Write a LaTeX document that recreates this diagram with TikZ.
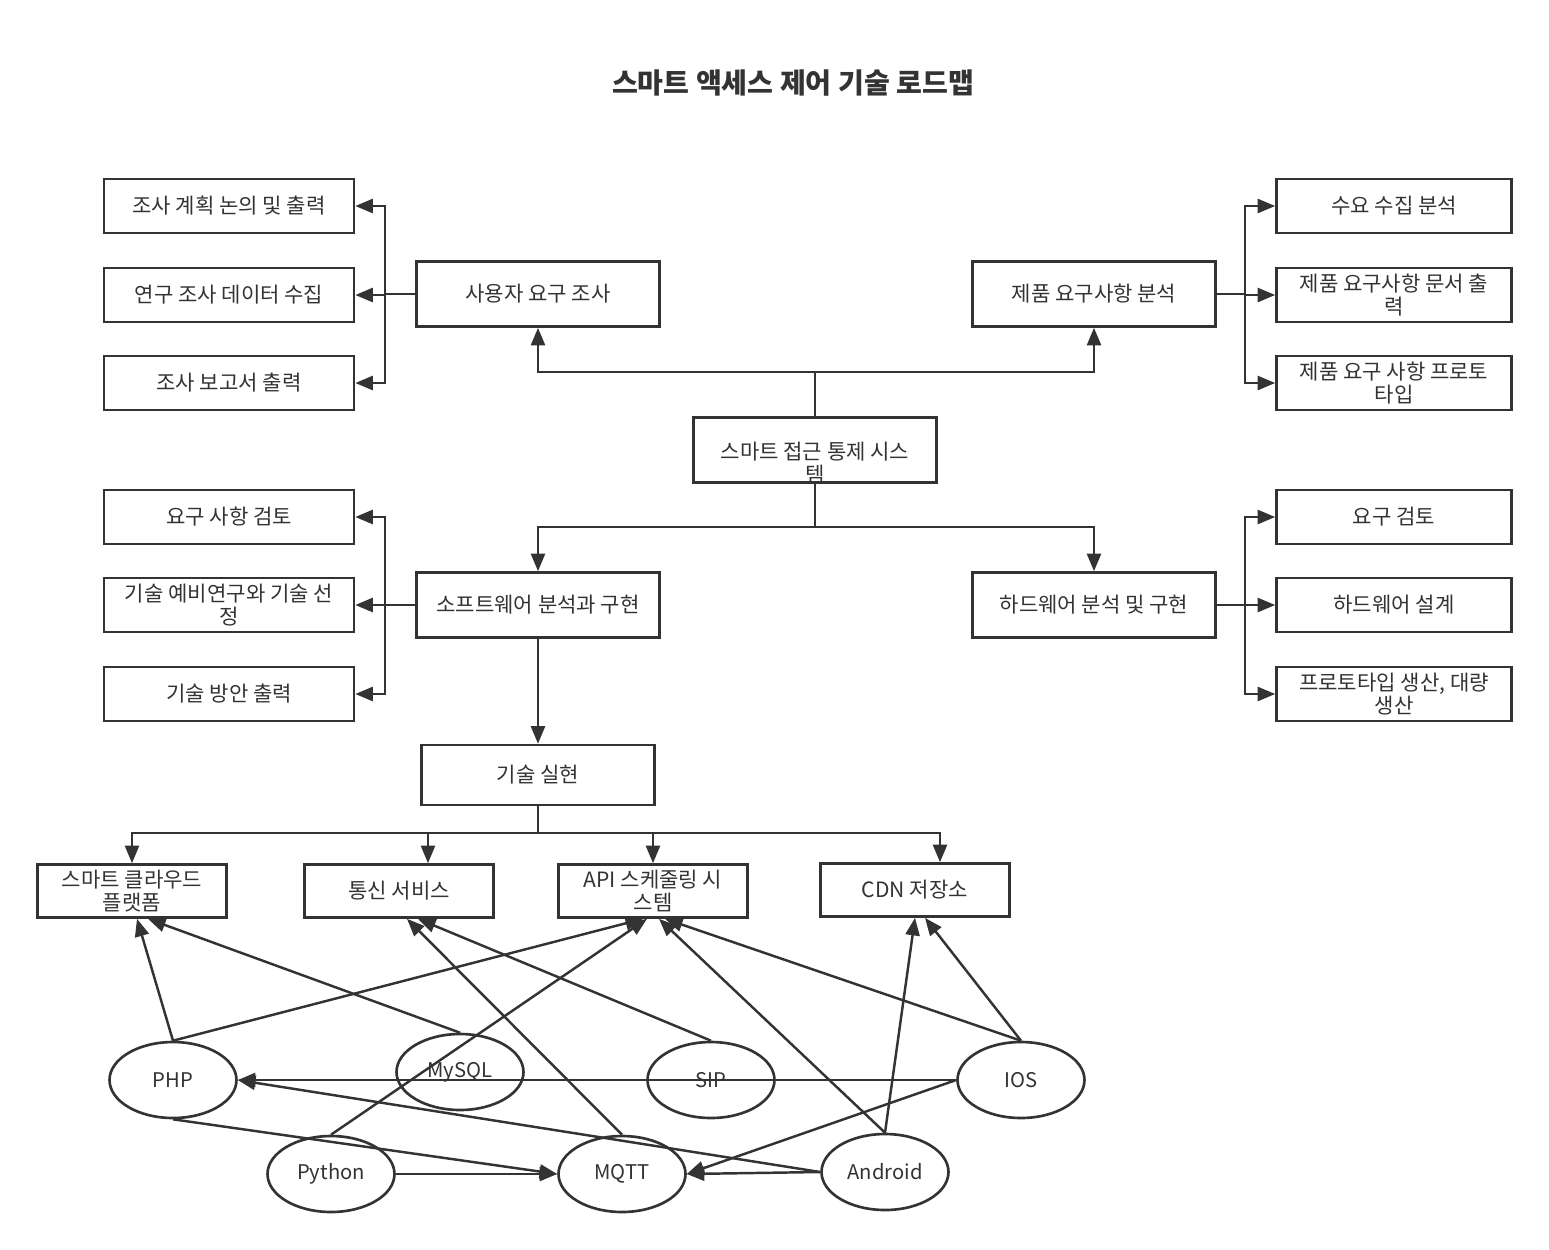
\documentclass[tikz,border=0pt]{standalone}
\usepackage{fontspec}
\setmainfont{Noto Sans CJK KR}
\usetikzlibrary{arrows.meta,shapes.geometric,calc}
\definecolor{linec}{HTML}{333333}
\tikzset{
  box/.style={draw=linec, line width=1.5pt, fill=white, text=linec, align=center,
    inner sep=0pt, font=\fontsize{12pt}{13.4pt}\selectfont},
  leaf/.style={box, minimum width=5cm, minimum height=1.08cm},
  rleaf/.style={box, minimum width=4.7cm, minimum height=1.08cm},
  mid/.style={box, minimum width=4.86cm, minimum height=1.3cm},
  tech/.style={box, minimum width=3.78cm, minimum height=1.06cm},
  oval/.style={ellipse, draw=linec, line width=1.5pt, text=linec, inner sep=0pt,
    minimum width=2.54cm, minimum height=1.52cm, font=\fontsize{11.5pt}{13.4pt}\selectfont},
  conn/.style={draw=linec, line width=1.4pt},
  arr/.style={conn, -{Triangle[length=10pt,width=8pt]}}
}
\begin{document}
\begin{tikzpicture}[x=0.02cm, y=-0.02cm]
  \useasboundingbox (0,0) rectangle (1549,1249);

  % Title
  \node[text=linec, font=\fontsize{16pt}{19pt}\selectfont\bfseries] (title) at (793,83) {스마트 액세스 제어 기술 로드맵};

  % Center system
  \node[mid] (sys) at (815,450) {};
  \node[text=linec, align=center, font=\fontsize{12pt}{13.4pt}\selectfont] (systxt) at (815,463) {스마트 접근 통제 시스\\템};

  % Upper branches
  \node[mid] (user) at (538,294) {사용자 요구 조사};
  \node[mid] (prod) at (1094,294) {제품 요구사항 분석};
  \node[leaf] (plan) at (229,206) {조사 계획 논의 및 출력};
  \node[leaf] (data) at (229,295) {연구 조사 데이터 수집};
  \node[leaf] (report) at (229,383) {조사 보고서 출력};
  \node[rleaf] (need) at (1394,206) {수요 수집 분석};
  \node[rleaf] (doc) at (1394,295) {제품 요구사항 문서 출\\력};
  \node[rleaf] (proto) at (1394,383) {제품 요구 사항 프로토\\타입};

  % Lower branches
  \node[mid] (sw) at (538,605) {소프트웨어 분석과 구현};
  \node[mid] (hw) at (1094,605) {하드웨어 분석 및 구현};
  \node[leaf] (review) at (229,517) {요구 사항 검토};
  \node[leaf] (study) at (229,605) {기술 예비연구와 기술 선\\정};
  \node[leaf] (scheme) at (229,694) {기술 방안 출력};
  \node[rleaf] (check) at (1394,517) {요구 검토};
  \node[rleaf] (hwdesign) at (1394,605) {하드웨어 설계};
  \node[rleaf] (mass) at (1394,694) {프로토타입 생산, 대량\\생산};

  % Implementation
  \node[box, minimum width=4.66cm, minimum height=1.2cm] (impl) at (538,775) {기술 실현};
  \node[tech] (cloud) at (132,891) {스마트 클라우드\\플랫폼};
  \node[tech] (comm) at (399,891) {통신 서비스};
  \node[tech] (api) at (653,891) {API 스케줄링 시\\스템};
  \node[tech] (cdn) at (915,890) {CDN 저장소};

  % Technologies
  \node[oval] (php) at (173,1080) {PHP};
  \node[oval] (mysql) at (460,1072) {MySQL};
  \node[oval] (sip) at (711,1080) {SIP};
  \node[oval] (ios) at (1021,1080) {IOS};
  \node[oval] (python) at (331,1174) {Python};
  \node[oval] (mqtt) at (622,1174) {MQTT};
  \node[oval] (android) at (885,1172) {Android};

  % System to the four branches
  \coordinate (st) at (815,372);
  \coordinate (sb) at (815,527);
  \draw[conn] (sys.north) -- (st);
  \draw[arr] (st) -| (user.south);
  \draw[arr] (st) -| (prod.south);
  \draw[conn] (sys.south) -- (sb);
  \draw[arr] (sb) -| (sw.north);
  \draw[arr] (sb) -| (hw.north);

  % Fan out to the leaves
  \coordinate (ub) at (385,294);
  \coordinate (pb) at (1245,294);
  \coordinate (swb) at (385,605);
  \coordinate (hb) at (1245,605);
  \draw[conn] (user.west) -- (ub);
  \draw[conn] (prod.east) -- (pb);
  \draw[conn] (sw.west) -- (swb);
  \draw[conn] (hw.east) -- (hb);
  \foreach \t in {plan,data,report} \draw[arr] (ub) |- (\t.east);
  \foreach \t in {need,doc,proto} \draw[arr] (pb) |- (\t.west);
  \foreach \t in {review,study,scheme} \draw[arr] (swb) |- (\t.east);
  \foreach \t in {check,hwdesign,mass} \draw[arr] (hb) |- (\t.west);

  % Implementation to services
  \coordinate (ib) at (538,833);
  \draw[arr] (sw.south) -- (impl.north);
  \draw[conn] (impl.south) -- (ib);
  \draw[arr] (ib) -| (cloud.north);
  \draw[arr] (ib) -| ($(comm.north)+(29,0)$);
  \draw[arr] (ib) -| (api.north);
  \draw[arr] (ib) -| ($(cdn.north)+(25,0)$);

  % Technologies to services
  \draw[arr] (php.north) -- ($(cloud.south)+(5,0)$);
  \draw[arr] (mysql.north) -- ($(cloud.south)+(16,0)$);
  \draw[arr] (mqtt.north) -- ($(comm.south)+(8,0)$);
  \draw[arr] (sip.north) -- ($(comm.south)+(19,0)$);
  \draw[arr] (php.north) -- ($(api.south)+(-10,0)$);
  \draw[arr] (python.north) -- ($(api.south)+(-6,0)$);
  \draw[arr] (android.north) -- ($(api.south)+(6,0)$);
  \draw[arr] (ios.north) -- ($(api.south)+(12,0)$);
  \draw[arr] (android.north) -- (cdn.south);
  \draw[arr] (ios.north) -- ($(cdn.south)+(10,0)$);

  % Links between technologies
  \draw[arr] (ios.west) -- (php.east);
  \draw[arr] (android.west) -- (php.east);
  \draw[arr] (php.south) -- (mqtt.west);
  \draw[arr] (python.east) -- (mqtt.west);
  \draw[arr] (android.west) -- (mqtt.east);
  \draw[arr] (ios.west) -- (mqtt.east);
\end{tikzpicture}
\end{document}
